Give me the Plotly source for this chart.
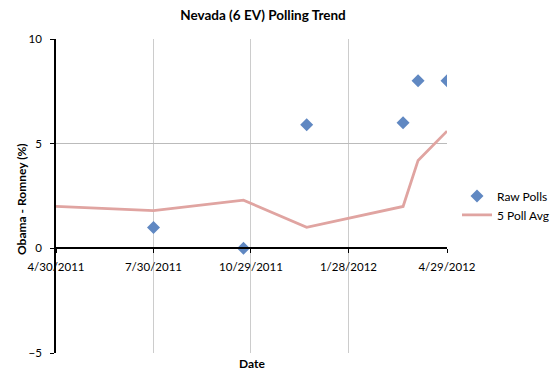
import plotly.graph_objects as go

raw_dates = ["2011-07-30", "2011-10-22", "2011-12-20", "2012-03-19", "2012-04-02", "2012-04-29"]
raw_values = [1.0, 0.0, 5.9, 6.0, 8.0, 8.0]

avg_dates = ["2011-04-30", "2011-07-30", "2011-10-22", "2011-12-20", "2012-03-19", "2012-04-02", "2012-04-29"]
avg_values = [2.0, 1.8, 2.3, 1.0, 2.0, 4.2, 5.6]

tick_dates = ["2011-04-30", "2011-07-30", "2011-10-29", "2012-01-28", "2012-04-29"]
tick_labels = ["4/30/2011", "7/30/2011", "10/29/2011", "1/28/2012", "4/29/2012"]

font = "Lato, Open Sans, sans-serif"

# the page body has an 8px margin; the figure is sized to fit the window
OFF = 8
W, H = 560 - OFF, 380 - OFF
pl, pr, pt, pb = 56 - OFF, 447 - OFF, 39 - OFF, 353 - OFF

fig = go.Figure()
fig.add_trace(go.Scatter(
    x=raw_dates, y=raw_values, mode="markers", name="Raw Polls",
    marker=dict(symbol="diamond", size=10, color="#6088c2"),
))
fig.add_trace(go.Scatter(
    x=avg_dates, y=avg_values, mode="lines", name="5 Poll Avg",
    line=dict(color="#e0a4a1", width=2.8),
))

fig.update_layout(
    width=W, height=H,
    margin=dict(l=pl, r=W - pr, t=pt, b=H - pb, autoexpand=False),
    paper_bgcolor="white", plot_bgcolor="white",
    font=dict(family=font, size=11.5, color="black"),
    title=dict(text="<b>Nevada (6 EV) Polling Trend</b>", x=(263 - OFF) / W, xanchor="center",
               y=1 - (15 - OFF) / H, yanchor="middle", font=dict(size=13.5)),
    showlegend=True,
    legend=dict(x=(457 - 56) / (447 - 56), y=0.47, xanchor="left", yanchor="middle",
                bgcolor="rgba(0,0,0,0)", font=dict(size=12), tracegroupgap=4),
    xaxis=dict(
        range=["2011-04-30", "2012-04-29"],
        tickvals=tick_dates, ticktext=tick_labels,
        showgrid=True, gridcolor="#cccccc", gridwidth=1,
        showline=True, linecolor="black", linewidth=1.5,
        ticks="outside", ticklen=4, tickcolor="black",
        ticklabelstandoff=4,
        anchor="free", position=1/3,
        zeroline=False, automargin=False,
    ),
    yaxis=dict(
        range=[-5, 10], tickvals=[-5, 0, 5, 10],
        showgrid=True, gridcolor="#bbbbbb", gridwidth=1,
        showline=True, linecolor="black", linewidth=1.5,
        ticks="outside", ticklen=4, tickcolor="black",
        ticklabelstandoff=6,
        zeroline=False, automargin=False,
    ),
    annotations=[
        dict(text="<b>Date</b>", x=252, y=363, xref="paper", yref="paper",
             showarrow=False, font=dict(size=12)),
        dict(text="<b>Obama - Romney (%)</b>", x=21, y=199, xref="paper", yref="paper",
             showarrow=False, textangle=-90, font=dict(size=12)),
    ],
)

# convert window pixel positions of annotations to paper coordinates
for a in fig.layout.annotations:
    a.x = (a.x - OFF - pl) / (pr - pl)
    a.y = (pb - (a.y - OFF)) / (pb - pt)
    a.xanchor = "center"
    a.yanchor = "middle"

fig.write_html("out.html")
